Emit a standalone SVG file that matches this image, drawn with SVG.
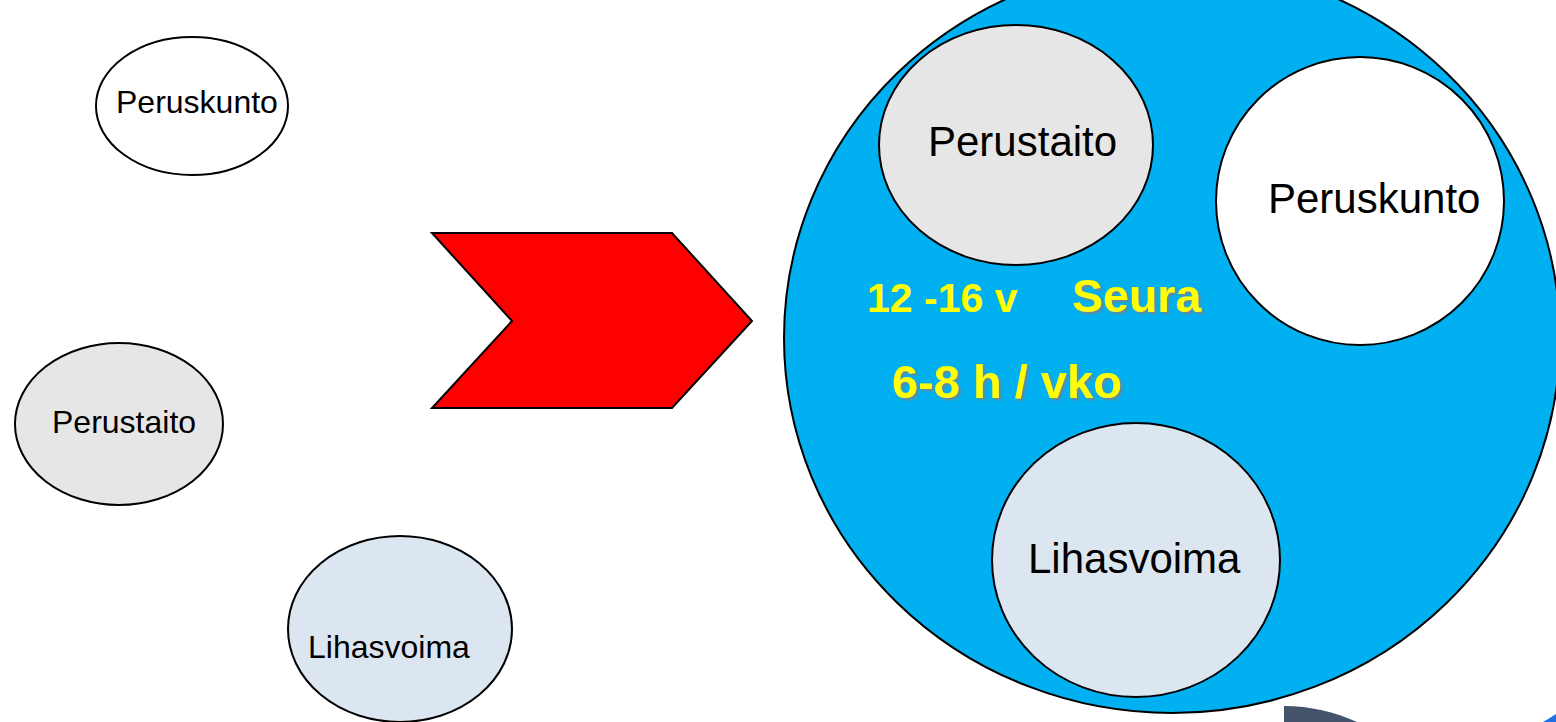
<svg xmlns="http://www.w3.org/2000/svg" width="1556" height="722" viewBox="0 0 1556 722">
  <defs>
    <style>
      .node { stroke: #000; stroke-width: 2; }
      .lbl { font-family: "Liberation Sans", Arial, sans-serif; fill: #000; }
      .s { font-size: 32px; }
      .b { font-size: 42px; }
      .y { font-family: "Liberation Sans", Arial, sans-serif; font-weight: bold; fill: #FFFF00; }
      .gray { fill: #E6E6E6; }
      .lblue { fill: #DCE6F0; }
      .white { fill: #FFFFFF; }
    </style>
    <filter id="shadow" x="-10%" y="-20%" width="130%" height="150%">
      <feDropShadow dx="2" dy="2" stdDeviation="1.2" flood-color="#7f7f7f" flood-opacity="0.9"/>
    </filter>
  </defs>
  <rect width="1556" height="722" fill="#FFFFFF"/>

  <g id="small-peruskunto">
    <ellipse class="node white" cx="192" cy="106" rx="96" ry="69"/>
    <text class="lbl s" x="116" y="113">Peruskunto</text>
  </g>
  <g id="small-perustaito">
    <ellipse class="node gray" cx="119" cy="424" rx="104" ry="81"/>
    <text class="lbl s" x="52" y="433">Perustaito</text>
  </g>
  <g id="small-lihasvoima">
    <ellipse class="node lblue" cx="400" cy="629" rx="112" ry="93"/>
    <text class="lbl s" x="308" y="658">Lihasvoima</text>
  </g>

  <g id="connectors">
    <polygon points="432,233 672,233 752,321 672,408 432,408 512,321" fill="#FF0000" stroke="#000" stroke-width="2"/>
  </g>

  <g id="seura">
    <ellipse cx="1172" cy="338" rx="388" ry="375" fill="#00B0F0" stroke="#000" stroke-width="2"/>
    <text class="y" x="867" y="312" font-size="41">12 -16 v</text>
    <text class="y" x="1072" y="312" font-size="46.5" filter="url(#shadow)">Seura</text>
    <text class="y" x="892" y="398" font-size="47" filter="url(#shadow)">6-8 h / vko</text>
  </g>
  <g id="big-perustaito">
    <ellipse class="node gray" cx="1016" cy="145" rx="137" ry="120"/>
    <text class="lbl b" x="928" y="156">Perustaito</text>
  </g>
  <g id="big-peruskunto">
    <ellipse class="node white" cx="1360" cy="201" rx="144" ry="144"/>
    <text class="lbl b" x="1268" y="213">Peruskunto</text>
  </g>
  <g id="big-lihasvoima">
    <ellipse class="node lblue" cx="1136" cy="560" rx="144" ry="137"/>
    <text class="lbl b" x="1028" y="573">Lihasvoima</text>
  </g>

  <g id="bottom-shapes">
    <path d="M1284 722 L1284 706 C1310 706 1335 712 1357 722 Z" fill="#44546A"/>
    <path d="M1543 722 Q1550 718 1556 714 L1556 722 Z" fill="#1F6FE5"/>
  </g>
</svg>
